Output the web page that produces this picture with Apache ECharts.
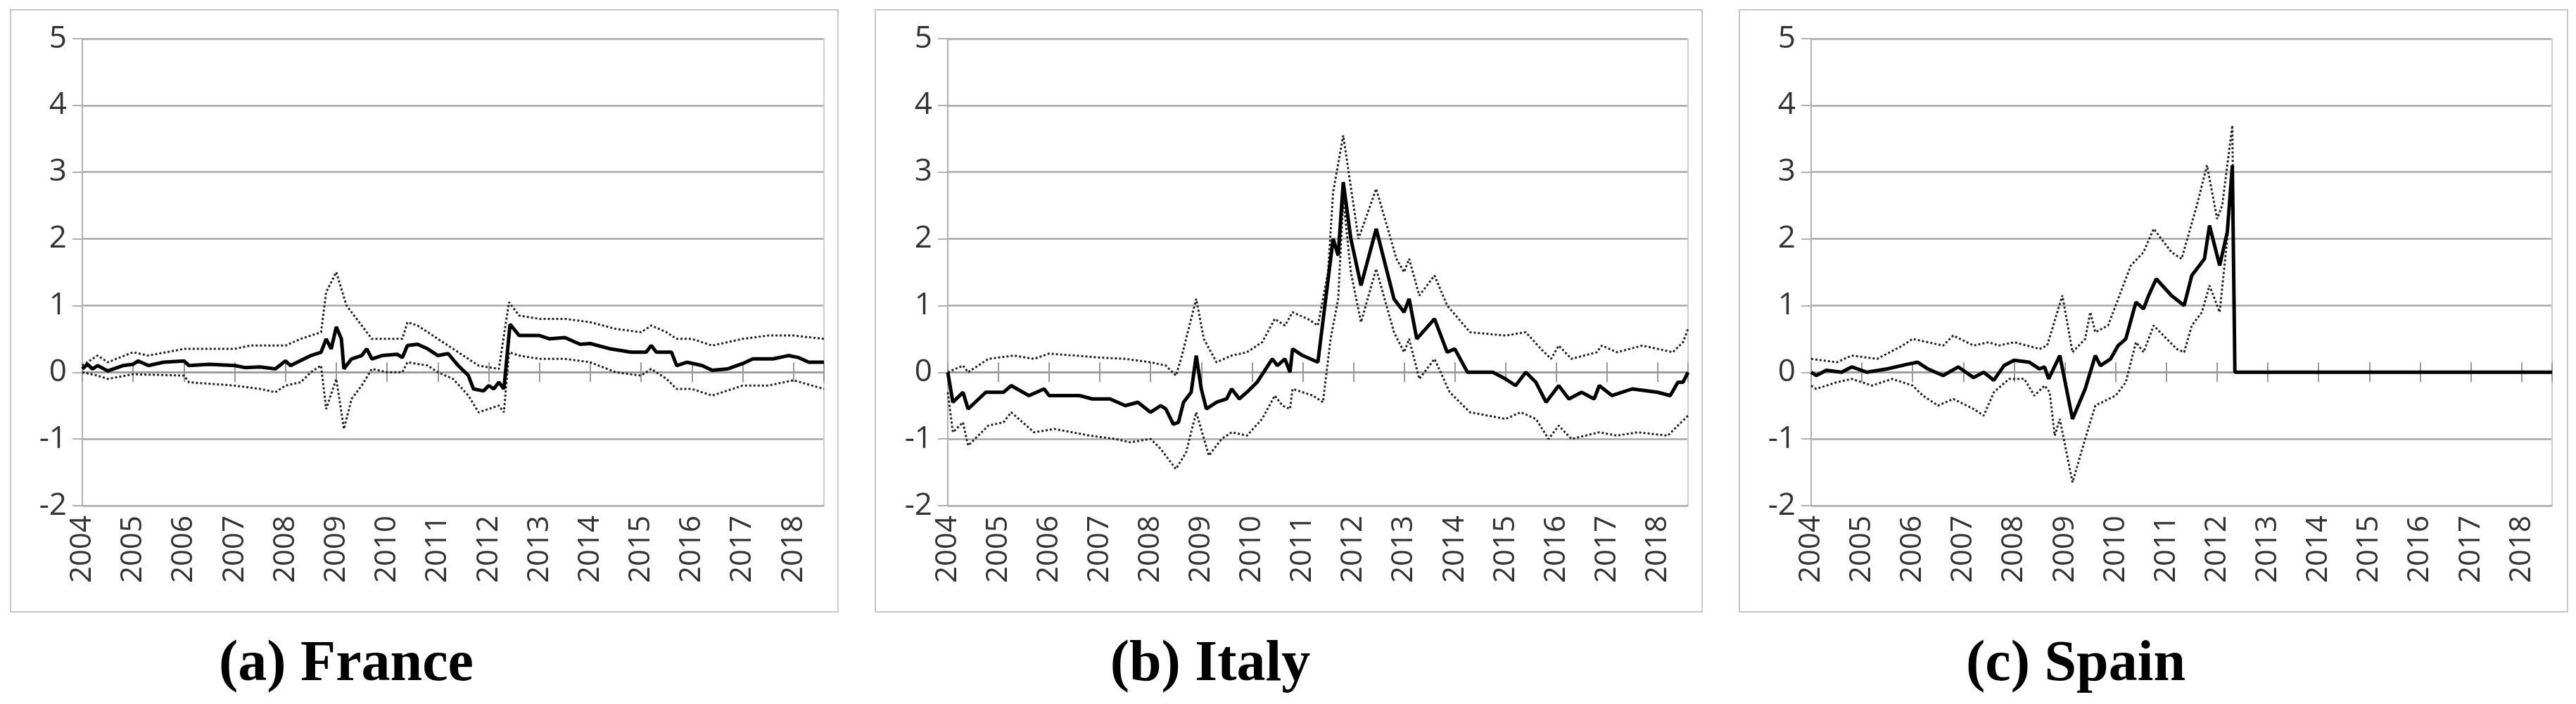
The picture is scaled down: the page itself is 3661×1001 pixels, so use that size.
<!DOCTYPE html>
<html><head><meta charset="utf-8">
<script src="https://cdn.jsdelivr.net/npm/echarts@6/dist/echarts.min.js"></script>
<style>html,body{margin:0;padding:0;background:#fff}#c{width:3661px;height:1001px}</style>
</head><body><div id="c"></div>
<script>
const yTicks = [-2,-1,0,1,2,3,4,5];
const years = [2004,2005,2006,2007,2008,2009,2010,2011,2012,2013,2014,2015,2016,2017,2018];
const captions = ["(a) France","(b) Italy","(c) Spain"];

const franceMid = [[2004,0.05],[2004.1,0.12],[2004.2,0.05],[2004.3,0.1],[2004.5,0.02],[2004.8,0.1],[2005,0.12],[2005.1,0.17],[2005.3,0.1],[2005.6,0.15],[2006,0.17],[2006.1,0.1],[2006.5,0.12],[2007,0.1],[2007.2,0.07],[2007.5,0.08],[2007.8,0.05],[2008,0.17],[2008.1,0.1],[2008.5,0.25],[2008.7,0.3],[2008.8,0.5],[2008.9,0.35],[2009,0.68],[2009.1,0.5],[2009.15,0.05],[2009.3,0.2],[2009.5,0.25],[2009.6,0.35],[2009.7,0.2],[2009.9,0.25],[2010.2,0.27],[2010.3,0.22],[2010.4,0.4],[2010.6,0.42],[2010.8,0.35],[2011,0.25],[2011.2,0.28],[2011.4,0.1],[2011.6,-0.05],[2011.7,-0.25],[2011.9,-0.28],[2012,-0.2],[2012.1,-0.25],[2012.2,-0.15],[2012.3,-0.25],[2012.42,0.72],[2012.6,0.55],[2013,0.55],[2013.2,0.5],[2013.5,0.52],[2013.8,0.42],[2014,0.43],[2014.4,0.35],[2014.8,0.3],[2015.1,0.3],[2015.2,0.4],[2015.3,0.3],[2015.6,0.3],[2015.7,0.1],[2015.9,0.15],[2016.2,0.1],[2016.4,0.03],[2016.7,0.05],[2017,0.13],[2017.2,0.2],[2017.6,0.2],[2017.9,0.25],[2018.1,0.22],[2018.3,0.15],[2018.6,0.15]];
const franceUp = [[2004,0.1],[2004.3,0.25],[2004.5,0.15],[2005,0.3],[2005.3,0.25],[2006,0.35],[2007,0.35],[2007.3,0.4],[2008,0.4],[2008.3,0.5],[2008.7,0.6],[2008.8,1.2],[2009,1.5],[2009.2,1.0],[2009.5,0.7],[2009.7,0.5],[2010,0.5],[2010.3,0.5],[2010.4,0.75],[2010.6,0.7],[2010.8,0.6],[2011,0.5],[2011.3,0.35],[2011.6,0.2],[2011.8,0.1],[2012.2,0.05],[2012.4,1.05],[2012.6,0.85],[2013,0.8],[2013.5,0.8],[2014,0.75],[2014.5,0.65],[2015,0.6],[2015.2,0.7],[2015.5,0.6],[2015.7,0.5],[2016,0.5],[2016.4,0.4],[2017,0.5],[2017.5,0.55],[2018,0.55],[2018.6,0.5]];
const franceLow = [[2004,0],[2004.3,-0.05],[2004.5,-0.1],[2005,-0.03],[2006,-0.05],[2006.1,-0.15],[2007,-0.2],[2007.5,-0.25],[2007.8,-0.3],[2008,-0.2],[2008.3,-0.15],[2008.5,0],[2008.7,0.1],[2008.8,-0.55],[2009,-0.1],[2009.15,-0.85],[2009.3,-0.4],[2009.5,-0.2],[2009.7,0.05],[2010,0],[2010.3,0],[2010.4,0.15],[2010.8,0.1],[2011,0],[2011.3,-0.1],[2011.6,-0.35],[2011.8,-0.6],[2012,-0.55],[2012.2,-0.5],[2012.3,-0.6],[2012.4,0.3],[2012.6,0.25],[2013,0.2],[2013.5,0.2],[2014,0.15],[2014.5,0],[2015,-0.05],[2015.2,0.05],[2015.5,-0.1],[2015.7,-0.25],[2016,-0.25],[2016.4,-0.35],[2017,-0.2],[2017.5,-0.2],[2018,-0.12],[2018.6,-0.25]];

const italyMid = [[2004,0],[2004.1,-0.45],[2004.3,-0.3],[2004.4,-0.55],[2004.75,-0.3],[2005.1,-0.3],[2005.25,-0.2],[2005.6,-0.35],[2005.9,-0.25],[2006,-0.35],[2006.6,-0.35],[2006.85,-0.4],[2007.2,-0.4],[2007.5,-0.5],[2007.75,-0.45],[2008,-0.6],[2008.2,-0.5],[2008.3,-0.55],[2008.45,-0.78],[2008.55,-0.75],[2008.65,-0.45],[2008.8,-0.3],[2008.9,0.25],[2009,-0.25],[2009.1,-0.55],[2009.3,-0.45],[2009.5,-0.4],[2009.6,-0.25],[2009.75,-0.4],[2009.9,-0.3],[2010.1,-0.15],[2010.4,0.2],[2010.5,0.1],[2010.65,0.2],[2010.75,0],[2010.8,0.35],[2011,0.25],[2011.3,0.15],[2011.6,2.0],[2011.7,1.75],[2011.8,2.85],[2011.95,2.0],[2012.15,1.3],[2012.45,2.15],[2012.8,1.1],[2013,0.9],[2013.1,1.1],[2013.25,0.5],[2013.6,0.8],[2013.85,0.3],[2014,0.35],[2014.25,0],[2014.75,0],[2015,-0.1],[2015.2,-0.2],[2015.4,0],[2015.6,-0.15],[2015.8,-0.45],[2016.05,-0.2],[2016.25,-0.4],[2016.5,-0.3],[2016.75,-0.4],[2016.85,-0.2],[2017.1,-0.35],[2017.5,-0.25],[2018,-0.3],[2018.25,-0.35],[2018.4,-0.15],[2018.5,-0.15],[2018.6,0]];
const italyUp = [[2004,0],[2004.3,0.1],[2004.4,0],[2004.8,0.2],[2005.3,0.25],[2005.7,0.2],[2006,0.28],[2007,0.22],[2007.5,0.2],[2008,0.15],[2008.3,0.1],[2008.5,-0.05],[2008.6,0.2],[2008.9,1.1],[2009.05,0.5],[2009.3,0.15],[2009.6,0.25],[2009.9,0.3],[2010.2,0.45],[2010.45,0.8],[2010.65,0.7],[2010.8,0.9],[2011.1,0.8],[2011.3,0.7],[2011.5,1.5],[2011.6,2.7],[2011.8,3.55],[2012.1,2.0],[2012.45,2.75],[2012.85,1.7],[2013,1.5],[2013.1,1.7],[2013.3,1.15],[2013.6,1.45],[2013.85,1.0],[2014.3,0.6],[2015,0.55],[2015.4,0.6],[2015.7,0.35],[2015.9,0.2],[2016.05,0.4],[2016.3,0.2],[2016.8,0.3],[2016.9,0.4],[2017.2,0.3],[2017.7,0.4],[2018.3,0.3],[2018.5,0.45],[2018.6,0.65]];
const italyLow = [[2004,-0.3],[2004.1,-0.9],[2004.3,-0.75],[2004.4,-1.1],[2004.8,-0.8],[2005.1,-0.75],[2005.25,-0.6],[2005.7,-0.9],[2006.1,-0.85],[2006.8,-0.95],[2007.3,-1.0],[2007.6,-1.05],[2008,-1.0],[2008.2,-1.15],[2008.5,-1.45],[2008.7,-1.2],[2008.9,-0.6],[2009.15,-1.25],[2009.4,-1.0],[2009.6,-0.9],[2009.9,-0.95],[2010.2,-0.7],[2010.45,-0.35],[2010.6,-0.5],[2010.75,-0.55],[2010.8,-0.25],[2011.2,-0.35],[2011.4,-0.45],[2011.55,0.5],[2011.7,1.1],[2011.8,2.6],[2011.95,1.5],[2012.15,0.75],[2012.45,1.55],[2012.8,0.6],[2013,0.3],[2013.1,0.5],[2013.3,-0.1],[2013.6,0.2],[2013.9,-0.3],[2014.3,-0.6],[2015,-0.7],[2015.3,-0.6],[2015.6,-0.7],[2015.85,-1.0],[2016.05,-0.8],[2016.3,-1.0],[2016.85,-0.9],[2017.2,-0.95],[2017.6,-0.9],[2018.2,-0.95],[2018.4,-0.8],[2018.6,-0.65]];

const spainMid = [[2004,0],[2004.1,-0.05],[2004.3,0.03],[2004.6,0],[2004.8,0.08],[2005.1,0],[2005.5,0.05],[2005.9,0.12],[2006.1,0.15],[2006.3,0.05],[2006.6,-0.05],[2006.9,0.08],[2007.2,-0.08],[2007.4,0],[2007.6,-0.12],[2007.8,0.1],[2008,0.18],[2008.3,0.15],[2008.5,0.05],[2008.6,0.08],[2008.68,-0.1],[2008.9,0.25],[2009.15,-0.7],[2009.4,-0.25],[2009.6,0.25],[2009.7,0.1],[2009.9,0.2],[2010.05,0.4],[2010.2,0.5],[2010.4,1.05],[2010.55,0.95],[2010.65,1.15],[2010.8,1.4],[2011.1,1.15],[2011.35,1.0],[2011.5,1.45],[2011.75,1.7],[2011.85,2.2],[2012.05,1.6],[2012.2,2.1],[2012.3,3.1],[2012.35,0],[2018.6,0]];
const spainUp = [[2004,0.2],[2004.5,0.15],[2004.8,0.25],[2005.3,0.2],[2005.8,0.4],[2006,0.5],[2006.6,0.4],[2006.8,0.55],[2007.2,0.4],[2007.5,0.45],[2007.7,0.4],[2008,0.45],[2008.5,0.35],[2008.65,0.4],[2008.95,1.15],[2009.15,0.3],[2009.4,0.5],[2009.5,0.9],[2009.6,0.6],[2009.85,0.7],[2010,1.0],[2010.3,1.6],[2010.55,1.8],[2010.75,2.15],[2011.1,1.8],[2011.3,1.7],[2011.6,2.5],[2011.8,3.1],[2012,2.3],[2012.1,2.5],[2012.3,3.7],[2012.35,0]];
const spainLow = [[2004,-0.2],[2004.1,-0.25],[2004.5,-0.15],[2004.8,-0.1],[2005.2,-0.2],[2005.6,-0.1],[2006,-0.2],[2006.2,-0.35],[2006.5,-0.5],[2006.8,-0.4],[2007.2,-0.55],[2007.4,-0.65],[2007.6,-0.3],[2007.9,-0.1],[2008.2,-0.1],[2008.4,-0.35],[2008.6,-0.2],[2008.7,-0.3],[2008.8,-0.95],[2008.9,-0.7],[2009.15,-1.65],[2009.4,-1.0],[2009.6,-0.5],[2010,-0.35],[2010.2,-0.15],[2010.4,0.45],[2010.55,0.3],[2010.75,0.7],[2011.2,0.35],[2011.35,0.3],[2011.5,0.7],[2011.7,0.9],[2011.85,1.3],[2012.05,0.9],[2012.2,2.0],[2012.3,3.0],[2012.35,0]];

const panels = [[franceMid,franceUp,franceLow],[italyMid,italyUp,italyLow],[spainMid,spainUp,spainLow]];
const layout = [{l:117,w:1054,fx:15,fw:1176,cx:492},{l:1347,w:1052,fx:1244,fw:1175,cx:1720},{l:2574,w:1053,fx:2472,fw:1177,cx:2950}];
const TOP=55,H=664;

const grid=[],xAxis=[],yAxis=[],series=[],graphic=[];
layout.forEach((p,i)=>{
  grid.push({left:p.l,top:TOP,width:p.w,height:H});
  const base={type:'value',gridIndex:i,min:2004,max:2018.6,interval:1,splitLine:{show:false}};
  xAxis.push(Object.assign({},base,{position:'bottom',axisLine:{onZero:false,lineStyle:{color:'#b0b0b0',width:2}},axisTick:{show:false},
    axisLabel:{rotate:90,fontSize:42,color:'#333',fontFamily:'Open Sans',margin:14,showMaxLabel:false,formatter:v=>years.includes(v)?String(v):''}}));
  xAxis.push(Object.assign({},base,{position:'bottom',axisLine:{onZero:true,lineStyle:{color:'#999',width:2.5}},axisTick:{show:true,length:14,lineStyle:{color:'#999',width:2}},axisLabel:{show:false}}));
  xAxis.push(Object.assign({},base,{position:'bottom',axisLine:{show:false,onZero:true},axisTick:{show:true,inside:true,length:14,lineStyle:{color:'#999',width:2}},axisLabel:{show:false}}));
  yAxis.push({type:'value',gridIndex:i,min:-2,max:5,interval:1,
    axisLine:{show:true,lineStyle:{color:'#b0b0b0',width:2}},axisTick:{show:true,length:14,lineStyle:{color:'#b0b0b0',width:2}},
    axisLabel:{fontSize:44,color:'#333',fontFamily:'Open Sans',margin:22,formatter:v=>yTicks.includes(v)?String(v):''},
    splitLine:{lineStyle:{color:'#a8a8a8',width:2.5}}});
  yAxis.push({type:'value',gridIndex:i,min:-2,max:5,interval:1,position:'right',axisLine:{show:true,lineStyle:{color:'#d0d0d0',width:2}},axisTick:{show:false},axisLabel:{show:false},splitLine:{show:false}});
  const [mid,up,low]=panels[i];
  [[up,'dotted',3,'#222'],[low,'dotted',3,'#222'],[mid,'solid',5,'#000']].forEach(([d,t,w,c])=>{
    series.push({type:'line',xAxisIndex:i*3,yAxisIndex:i*2,data:d,showSymbol:false,animation:false,lineStyle:{type:t,width:w,color:c},z:t==='solid'?5:3});
  });
  graphic.push({type:'rect',shape:{x:p.fx,y:14,width:p.fw,height:856},style:{fill:'none',stroke:'#c8c8c8',lineWidth:2}});
  graphic.push({type:'text',x:p.cx,y:946,style:{text:captions[i],align:'center',verticalAlign:'middle',
    fontFamily:'Liberation Serif',fontWeight:'bold',fontSize:82,fill:'#000'}});
});
const chart=echarts.init(document.getElementById('c'));
chart.setOption({animation:false,grid,xAxis,yAxis,series,graphic});
</script></body></html>
